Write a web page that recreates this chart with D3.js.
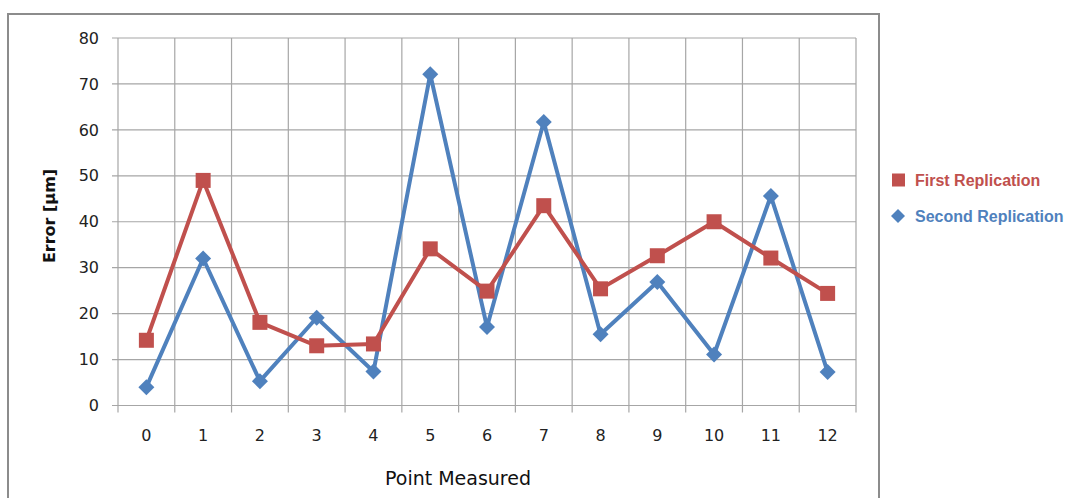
<!DOCTYPE html>
<html><head><meta charset="utf-8">
<script src="https://cdn.jsdelivr.net/npm/d3@7"></script>
<style>body{margin:0;background:#fff}svg{display:block}</style>
</head><body>
<script>
const categories = ["0","1","2","3","4","5","6","7","8","9","10","11","12"];
const firstReplication = [14.2, 49.0, 18.1, 13.0, 13.4, 34.1, 24.9, 43.5, 25.4, 32.6, 40.0, 32.1, 24.4];
const secondReplication = [4.0, 32.0, 5.3, 19.1, 7.4, 72.1, 17.1, 61.7, 15.5, 26.9, 11.1, 45.6, 7.3];
const yTicks = [0,10,20,30,40,50,60,70,80];
const seriesNames = ["First Replication", "Second Replication"];
const colors = ["#C0504D", "#4F81BD"];

(function () {
const W = 1068, H = 498;
const svg = d3.select("body").append("svg").attr("width", W).attr("height", H);

svg.append("rect").attr("x", 8).attr("y", 14).attr("width", 871).attr("height", 500)
  .attr("fill", "none").attr("stroke", "#8c8c8c").attr("stroke-width", 2);

const pL = 118, pR = 856, pT = 38, pB = 405.5;
const x = d3.scaleBand().domain(categories).range([pL, pR]);
const y = d3.scaleLinear().domain([0, 80]).range([pB, pT]);

const g = svg.append("g");
g.selectAll("line.h").data(yTicks).join("line")
  .attr("x1", pL - 6).attr("x2", pR).attr("y1", d => y(d)).attr("y2", d => y(d))
  .attr("stroke", "#a6a6a6").attr("stroke-width", 1.2);
const vx = categories.map(c => x(c)).concat([pR]);
g.selectAll("line.v").data(vx).join("line")
  .attr("x1", d => d).attr("x2", d => d).attr("y1", pT).attr("y2", pB + 7)
  .attr("stroke", "#a6a6a6").attr("stroke-width", 1.2);

const yAxis = svg.append("g").attr("transform", `translate(${pL - 6},0)`)
  .call(d3.axisLeft(y).tickValues(yTicks).tickSize(0).tickPadding(13));
yAxis.select(".domain").remove();
yAxis.selectAll("text").attr("font-family", "DejaVu Sans, Verdana, sans-serif").attr("font-size", 16).attr("fill", "#222");

const xAxis = svg.append("g").attr("transform", `translate(0,${pB})`)
  .call(d3.axisBottom(x).tickSize(0).tickPadding(24));
xAxis.select(".domain").remove();
xAxis.selectAll("text").attr("font-family", "DejaVu Sans, Verdana, sans-serif").attr("font-size", 16).attr("fill", "#222");

svg.append("text").attr("x", 458).attr("y", 485).attr("text-anchor", "middle")
  .attr("font-family", "DejaVu Sans, Verdana, sans-serif").attr("font-size", 19).attr("fill", "#111")
  .text("Point Measured");
svg.append("text").attr("transform", "translate(55,216) rotate(-90)").attr("text-anchor", "middle")
  .attr("font-family", "DejaVu Sans, Verdana, sans-serif").attr("font-size", 16).attr("font-weight", "bold").attr("fill", "#111")
  .text("Error [µm]");

const cx = c => x(c) + x.bandwidth() / 2;
const line = d3.line().x((d, i) => cx(categories[i])).y(d => y(d));
const data = [firstReplication, secondReplication];

[1, 0].forEach(s => {
  svg.append("path").datum(data[s]).attr("d", line).attr("fill", "none")
    .attr("stroke", colors[s]).attr("stroke-width", 4).attr("stroke-linejoin", "round");
});
[1, 0].forEach(s => {
  const pts = svg.append("g");
  if (s === 0) {
    pts.selectAll("rect").data(data[s]).join("rect")
      .attr("x", (d, i) => cx(categories[i]) - 7.5).attr("y", d => y(d) - 7.5)
      .attr("width", 15).attr("height", 15).attr("fill", colors[s]);
  } else {
    pts.selectAll("path").data(data[s]).join("path")
      .attr("transform", (d, i) => `translate(${cx(categories[i])},${y(d)})`)
      .attr("d", "M0,-8L8,0L0,8L-8,0Z").attr("fill", colors[s]);
  }
});

const leg = svg.append("g");
const ly = [180, 216];
leg.append("rect").attr("x", 892).attr("y", ly[0] - 6.5).attr("width", 13).attr("height", 13).attr("fill", colors[0]);
leg.append("path").attr("transform", `translate(898,${ly[1]})`).attr("d", "M0,-7L7,0L0,7L-7,0Z").attr("fill", colors[1]);
seriesNames.forEach((n, i) => {
  leg.append("text").attr("x", 915).attr("y", ly[i]).attr("dy", "0.36em")
    .attr("font-family", "Liberation Sans, Arial, sans-serif").attr("font-size", 16).attr("font-weight", "bold")
    .attr("fill", colors[i]).text(n);
});
})();
</script>
</body></html>
